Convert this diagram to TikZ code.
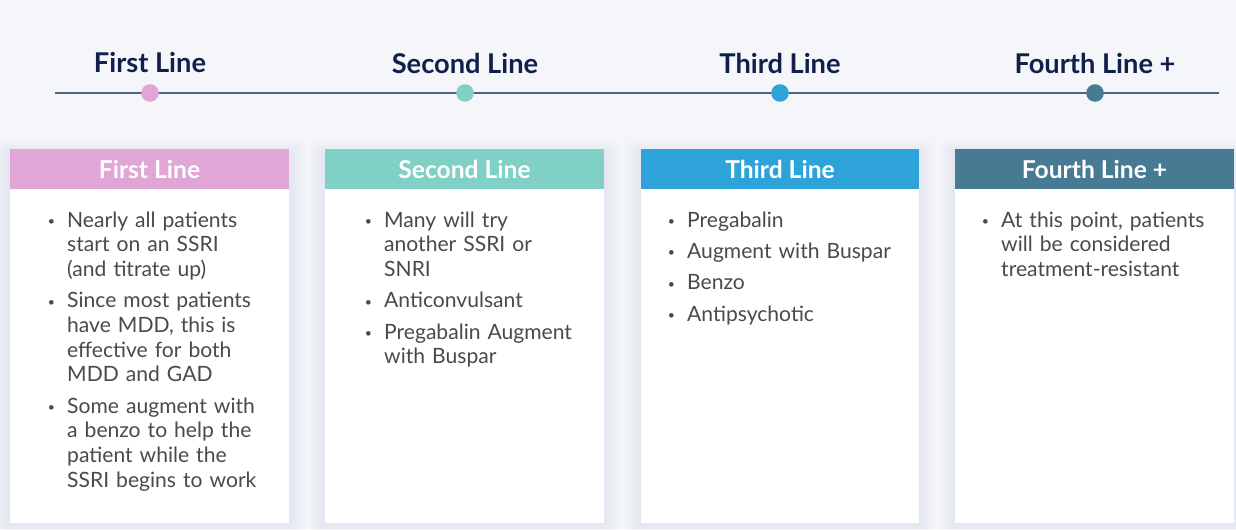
\documentclass[tikz,border=0pt]{standalone}
\usepackage{fontspec}
\setmainfont{Lato}
\usepackage{enumitem}
\definecolor{pagebg}{HTML}{F4F6F9}
\definecolor{navy}{HTML}{10204A}
\definecolor{bodygray}{HTML}{4A4A4A}
\definecolor{railcol}{HTML}{4F6480}
\definecolor{shadowc}{HTML}{B8A8D0}
\definecolor{pinkc}{HTML}{E0A6D5}
\definecolor{tealc}{HTML}{80D0C5}
\definecolor{bluec}{HTML}{2EA3DA}
\definecolor{slatec}{HTML}{477A93}
\setlist[itemize]{label={\raisebox{1pt}{\scriptsize\textbullet}},leftmargin=15pt,labelsep=7pt,itemsep=3.8pt,topsep=0pt,parsep=0pt,partopsep=0pt}

\begin{document}
\begin{tikzpicture}[x=0.02cm,y=-0.02cm,
  stagetitle/.style={font=\fontsize{15.5}{18}\selectfont\bfseries,text=navy},
  stagedot/.style={circle,inner sep=0pt,minimum size=10pt},
  cardhead/.style={font=\fontsize{14}{16}\selectfont\bfseries,text=white},
  cardtext/.style={anchor=north west,inner sep=0pt,text width=135pt,text=bodygray,font=\fontsize{12}{14.05}\selectfont}]
\fill[pagebg] (0,0) rectangle (1236,529);
\useasboundingbox (0,0) rectangle (1236,529);

% timeline
\draw[railcol,line width=0.8pt] (55,93) -- (1219,93);
\node[stagedot,fill=pinkc] (d1) at (150,93) {};
\node[stagedot,fill=tealc] (d2) at (465,93) {};
\node[stagedot,fill=bluec] (d3) at (780,93) {};
\node[stagedot,fill=slatec] (d4) at (1095,93) {};
\node[stagetitle] (t1) at (150,63) {First Line};
\node[stagetitle] (t2) at (465,63) {Second Line};
\node[stagetitle] (t3) at (780,63) {Third Line};
\node[stagetitle] (t4) at (1095,63) {Fourth Line +};

% soft shadows
\foreach \l/\r in {10/289,325/604,641/919,955/1234}
  \foreach \s in {2,4,...,16}
    \fill[shadowc,opacity=0.025,rounded corners=\s*0.3pt] (\l-\s,149-\s+6) rectangle (\r+\s,523+\s);

% cards
\fill[white] (10,149) rectangle (289,523);
\fill[white] (325,149) rectangle (604,523);
\fill[white] (641,149) rectangle (919,523);
\fill[white] (955,149) rectangle (1234,523);
\fill[pinkc] (10,149) rectangle (289,189);
\fill[tealc] (325,149) rectangle (604,189);
\fill[bluec] (641,149) rectangle (919,189);
\fill[slatec] (955,149) rectangle (1234,189);
\node[cardhead] (h1) at (149.5,169) {First Line};
\node[cardhead] (h2) at (464.5,169) {Second Line};
\node[cardhead] (h3) at (780,169) {Third Line};
\node[cardhead] (h4) at (1094.5,169) {Fourth Line +};

\node[cardtext] (b1) at (40.5,202) {\begin{itemize}
  \item Nearly all patients\\start on an SSRI\\(and titrate up)
  \item Since most patients\\have MDD, this is\\effective for both\\MDD and GAD
  \item Some augment with\\a benzo to help the\\patient while the\\SSRI begins to work
\end{itemize}};
\node[cardtext] (b2) at (357.5,202) {\begin{itemize}
  \item Many will try\\another SSRI or\\SNRI
  \item Anticonvulsant
  \item Pregabalin Augment\\with Buspar
\end{itemize}};
\node[cardtext] (b3) at (660.5,202) {\begin{itemize}
  \item Pregabalin
  \item Augment with Buspar
  \item Benzo
  \item Antipsychotic
\end{itemize}};
\node[cardtext] (b4) at (974.5,202) {\begin{itemize}
  \item At this point, patients\\will be considered\\treatment-resistant
\end{itemize}};
\end{tikzpicture}
\end{document}
